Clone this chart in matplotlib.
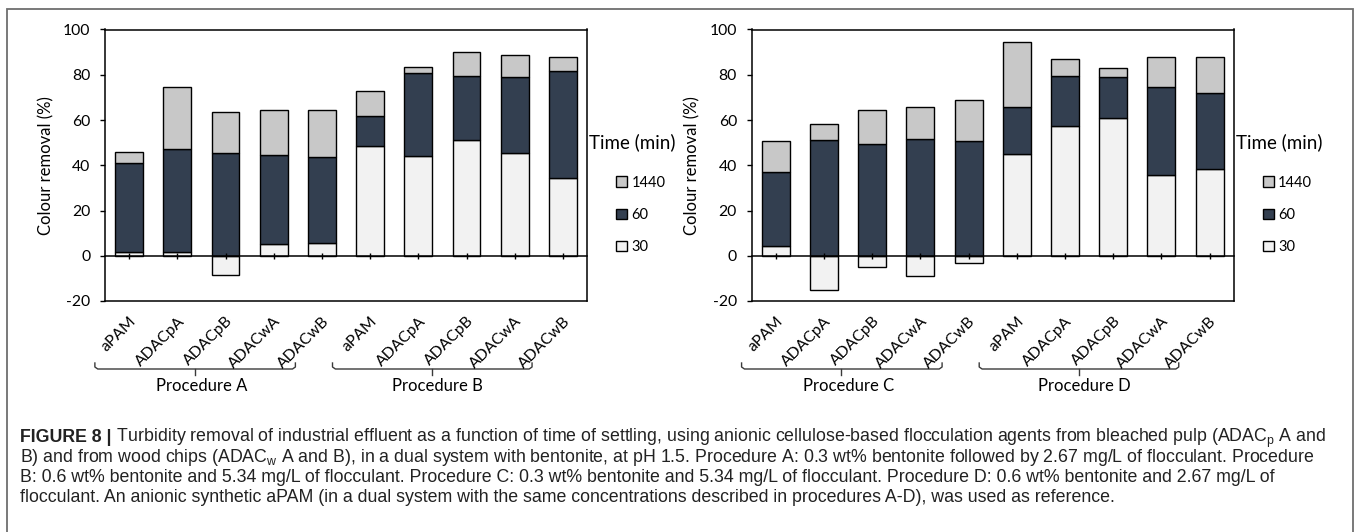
import numpy as np
import matplotlib
matplotlib.use('Agg')
import matplotlib.pyplot as plt
from matplotlib import transforms
from matplotlib.patches import Rectangle

plt.rcParams['font.family'] = ['Lato', 'DejaVu Sans']
plt.rcParams['axes.unicode_minus'] = False

# Data (segment heights of each stacked bar, %)
categories = ['aPAM', 'ADACpA', 'ADACpB', 'ADACwA', 'ADACwB'] * 2

left_30 = [1.8, 1.8, -8.5, 5.0, 5.6, 48.5, 44.2, 51.0, 45.3, 34.5]
left_60 = [39.0, 45.4, 45.5, 39.4, 38.2, 13.4, 36.6, 28.6, 33.6, 47.3]
left_1440 = [5.2, 27.2, 18.0, 19.9, 20.5, 11.0, 2.8, 10.3, 9.8, 6.2]

right_30 = [4.4, -15.3, -5.0, -9.1, -3.2, 45.0, 57.3, 60.7, 35.8, 38.3]
right_60 = [32.6, 51.1, 49.4, 51.7, 50.7, 20.7, 22.1, 18.3, 38.6, 33.8]
right_1440 = [13.6, 7.0, 14.9, 14.2, 18.1, 28.6, 7.6, 3.8, 13.6, 15.9]

left_groups = ['Procedure A', 'Procedure B']
right_groups = ['Procedure C', 'Procedure D']

c30, c60, c1440 = '#f2f2f2', '#333f50', '#c8c8c8'

W, H = 1358, 532
fig = plt.figure(figsize=(W / 100, H / 100), dpi=100)


def fx(px):
    return px / W


def fy(px):
    return 1 - px / H


def panel(left_px, s30, s60, s1440, groups):
    ax = fig.add_axes([fx(left_px), fy(301), 482 / W, (301 - 29.5) / H])
    x = np.arange(len(categories))
    s30 = np.array(s30)
    s60 = np.array(s60)
    base60 = np.where(s30 > 0, s30, 0)
    kw = dict(width=0.58, edgecolor='black', linewidth=1.0)
    b30 = ax.bar(x, s30, color=c30, **kw)
    b60 = ax.bar(x, s60, bottom=base60, color=c60, **kw)
    b1440 = ax.bar(x, s1440, bottom=base60 + s60, color=c1440, **kw)

    ax.set_xlim(-0.5, len(categories) - 0.5)
    ax.set_ylim(-20, 100)
    ax.set_yticks(range(-20, 101, 20))
    for s in ax.spines.values():
        s.set_linewidth(1.1)
    ax.spines['bottom'].set_position(('data', 0))
    ax.plot([0, 1], [0, 0], transform=ax.transAxes, color='black', lw=1.1, clip_on=False)
    ax.set_xticks(x)
    ax.set_xticklabels([])
    ax.tick_params(axis='x', direction='inout', length=5, width=1)
    ax.tick_params(axis='y', direction='out', length=3.6, width=1, labelsize=11.3, pad=7)

    ax.text(-59 / 482, 0.5, 'Colour removal (%)', transform=ax.transAxes,
            rotation=90, ha='center', va='center', fontsize=12)

    # rotated category labels under the plot area
    lab_tr = transforms.offset_copy(ax.transData, fig=fig, x=0, y=-13, units='dots')
    for xi, lab in zip(x, categories):
        ax.text(xi, -20, lab, transform=lab_tr, rotation=45, rotation_mode='anchor',
                ha='right', va='top', fontsize=11.3)

    # group braces + procedure names
    bt = transforms.blended_transform_factory(ax.transData, fig.transFigure)
    for (x0, x1, xc), name, xt in zip([(-0.71, 3.45, 1.36), (4.22, 8.36, 6.29)], groups, [1.5, 6.4]):
        ax.plot([x0, x0, x0 + 0.06, x1 - 0.06, x1, x1],
                [fy(363), fy(367), fy(369), fy(369), fy(367), fy(363)],
                transform=bt, color='#3a3a3a', lw=1.0, clip_on=False)
        ax.plot([xc, xc], [fy(369), fy(375)], transform=bt, color='#3a3a3a', lw=1.0, clip_on=False)
        ax.text(xt, fy(386), name, transform=bt, ha='center', va='center', fontsize=12)

    # legend
    ax.text(fx(left_px + 484), fy(142), 'Time (min)', transform=fig.transFigure,
            ha='left', va='center', fontsize=13.5)
    ax.legend([b1440, b60, b30], ['1440', '60', '30'], loc='center left',
              bbox_to_anchor=(fx(left_px + 511), fy(215)), bbox_transform=fig.transFigure,
              frameon=False, fontsize=10.5, handlelength=0.75, handleheight=0.75,
              handletextpad=0.3, labelspacing=1.25, borderpad=0, borderaxespad=0)
    return ax


panel(105, left_30, left_60, left_1440, left_groups)
panel(751.7, right_30, right_60, right_1440, right_groups)

# outer frame
fig.add_artist(Rectangle((fx(7), fy(560)), fx(1353 - 7), (560 - 9) / H, transform=fig.transFigure,
                         fill=False, edgecolor='#6e6e6e', lw=1.3))

# caption
cap_font = ['Liberation Sans', 'DejaVu Sans']
cap_size = 12.8
cap_lines = [
    ' Turbidity removal of industrial effluent as a function of time of settling, using anionic '
    'cellulose-based flocculation agents from bleached pulp (ADAC$_\\mathregular{p}$ A and',
    'B) and from wood chips (ADAC$_\\mathregular{w}$ A and B), in a dual system with bentonite, at pH 1.5. '
    'Procedure A: 0.3 wt% bentonite followed by 2.67 mg/L of flocculant. Procedure',
    'B: 0.6 wt% bentonite and 5.34 mg/L of flocculant. Procedure C: 0.3 wt% bentonite and 5.34 mg/L of '
    'flocculant. Procedure D: 0.6 wt% bentonite and 2.67 mg/L of',
    'flocculant. An anionic synthetic aPAM (in a dual system with the same concentrations described in '
    'procedures A-D), was used as reference.',
]
cap_y = [438, 458, 478, 498]
bold = fig.text(fx(20), fy(cap_y[0]), 'FIGURE 8 |', family=cap_font, fontweight='bold',
                fontsize=cap_size, color='#222222', va='center', ha='left')
fig.canvas.draw()
bb = bold.get_window_extent(fig.canvas.get_renderer())
for i, (line, yy) in enumerate(zip(cap_lines, cap_y)):
    x0 = bb.x1 / W if i == 0 else fx(20)
    fig.text(x0, fy(yy), line, family=cap_font, fontsize=cap_size, color='#222222',
             va='center', ha='left')

fig.savefig('out.png', dpi=100)
